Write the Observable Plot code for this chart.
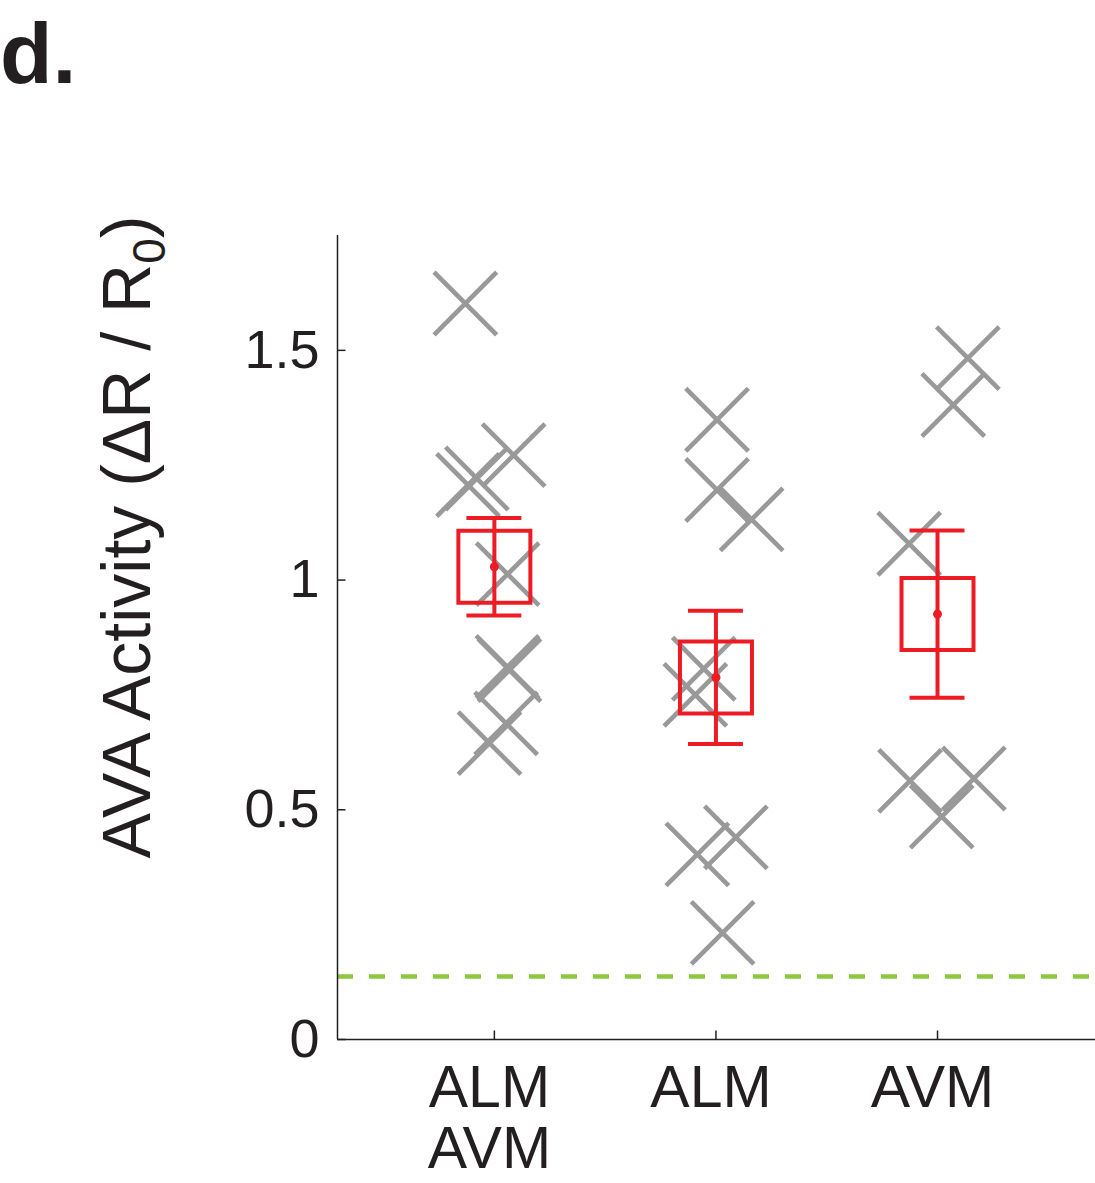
<!DOCTYPE html>
<html><head><meta charset="utf-8">
<script src="https://cdn.jsdelivr.net/npm/d3@7"></script>
<script src="https://cdn.jsdelivr.net/npm/@observablehq/plot@0.6"></script>
<style>
body{margin:0;background:#fff;}
#wrap{position:relative;width:1095px;height:1183px;}
#panel{position:absolute;left:0;top:10px;font-family:"Liberation Sans",Arial,sans-serif;font-weight:bold;font-size:86px;color:#231f20;line-height:1;}
#chart{position:absolute;left:0;top:0;}
</style></head><body>
<div id="wrap"><div id="chart"></div><div id="panel">d.</div></div>
<script>
// ---- data ----
const categories = ["ALM\nAVM", "ALM", "AVM"];
const categoryPos = [1, 2, 3];
const cross1X = [0.869, 1.087, 0.881, 0.921, 1.060, 1.059, 1.068, 1.053, 0.978];
const cross1Y = [1.602, 1.272, 1.207, 1.221, 1.013, 0.811, 0.804, 0.688, 0.645];
const cross2X = [2.005, 2.005, 2.161, 1.945, 1.907, 1.916, 2.090, 2.030];
const cross2Y = [1.349, 1.196, 1.132, 0.807, 0.750, 0.403, 0.440, 0.232];
const cross3X = [3.137, 3.071, 2.872, 2.876, 3.164, 3.019];
const cross3Y = [1.483, 1.381, 1.079, 0.563, 0.568, 0.485];
const means = [1.029, 0.788, 0.926];
const errors = [0.106, 0.145, 0.182];
const threshold = 0.137;
const yTicks = [0, 0.5, 1, 1.5];
const yTickLabels = ["0", "0.5", "1", "1.5"];
const yTitle = "AVA Activity (\u0394R / R";
const yTitleSub = "0";

// ---- build tables ----
const crosses = [
  ...cross1X.map((x, i) => ({x, y: cross1Y[i]})),
  ...cross2X.map((x, i) => ({x, y: cross2Y[i]})),
  ...cross3X.map((x, i) => ({x, y: cross3Y[i]}))
];
const stats = categoryPos.map((x, i) => ({x, mean: means[i], lo: means[i] - errors[i], hi: means[i] + errors[i], label: categories[i]}));
const xMin = 0.292, xMax = 3.713;

const red = "#ed1c24";
const gray = "#999999";
const ink = "#231f20";
const font = "'Liberation Sans', Arial, Helvetica, sans-serif";
const capHalf = 0.124;

const timesSymbol = {draw(ctx, size) { const r = Math.sqrt(size / Math.PI); ctx.moveTo(-r, -r); ctx.lineTo(r, r); ctx.moveTo(-r, r); ctx.lineTo(r, -r); }};
const squareSymbol = {draw(ctx, size) { const r = Math.sqrt(size / Math.PI); ctx.moveTo(-r, -r); ctx.lineTo(r, -r); ctx.lineTo(r, r); ctx.lineTo(-r, r); ctx.closePath(); }};
const tickRight = {draw(ctx, size) { const r = Math.sqrt(size / Math.PI); ctx.moveTo(0, 0); ctx.lineTo(r, 0); }};
const tickUp = {draw(ctx, size) { const r = Math.sqrt(size / Math.PI); ctx.moveTo(0, 0); ctx.lineTo(0, -r); }};

const chart = Plot.plot({
  width: 1095,
  height: 1183,
  marginLeft: 337,
  marginRight: 0,
  marginTop: 235,
  marginBottom: 144,
  style: {fontFamily: font, color: ink, background: "transparent"},
  x: {type: "linear", domain: [xMin, xMax], axis: null},
  y: {domain: [0, 1.75], axis: null},
  marks: [
    Plot.ruleY([threshold], {stroke: "#8dc63f", strokeWidth: 4.5, strokeDasharray: "16,16"}),
    Plot.dot(crosses, {x: "x", y: "y", symbol: timesSymbol, r: 31.3, fill: "none", stroke: gray, strokeWidth: 4.6}),
    Plot.ruleX(stats, {x: "x", y1: "lo", y2: "hi", stroke: red, strokeWidth: 4}),
    Plot.ruleY(stats, {y: "hi", x1: d => d.x - capHalf, x2: d => d.x + capHalf, stroke: red, strokeWidth: 4}),
    Plot.ruleY(stats, {y: "lo", x1: d => d.x - capHalf, x2: d => d.x + capHalf, stroke: red, strokeWidth: 4}),
    Plot.dot(stats, {x: "x", y: "mean", symbol: squareSymbol, r: 36, fill: "none", stroke: red, strokeWidth: 4}),
    Plot.dot(stats, {x: "x", y: "mean", r: 4.5, fill: red, stroke: "none"}),
    // axes
    Plot.ruleX([xMin], {stroke: ink, strokeWidth: 1.5}),
    Plot.ruleY([0], {stroke: ink, strokeWidth: 1.5}),
    Plot.dot(yTicks, {x: xMin, y: d => d, symbol: tickRight, r: 8, fill: "none", stroke: ink, strokeWidth: 1.5}),
    Plot.dot(categoryPos, {x: d => d, y: 0, symbol: tickUp, r: 9, fill: "none", stroke: ink, strokeWidth: 1.5}),
    Plot.axisY({ticks: yTicks, tickSize: 0, tickPadding: 18, tickFormat: (d) => yTickLabels[yTicks.indexOf(d)], fontSize: 54, fill: ink, label: null}),
    Plot.text(stats, {x: "x", y: 0, text: "label", dy: 24, dx: -5, lineAnchor: "top", fontSize: 59, lineHeight: 1.04, fill: ink})
  ]
});
document.getElementById("chart").appendChild(chart);

// y-axis title with subscript
const t = d3.select(chart).append("text")
  .attr("transform", "translate(150,537) rotate(-90)")
  .attr("text-anchor", "middle")
  .attr("font-family", font)
  .attr("font-size", 68)
  .attr("fill", ink);
t.append("tspan").text(yTitle);
t.append("tspan").attr("font-size", 46).attr("dy", 15).text(yTitleSub);
t.append("tspan").attr("dy", -15).text(")");
</script>
</body></html>
